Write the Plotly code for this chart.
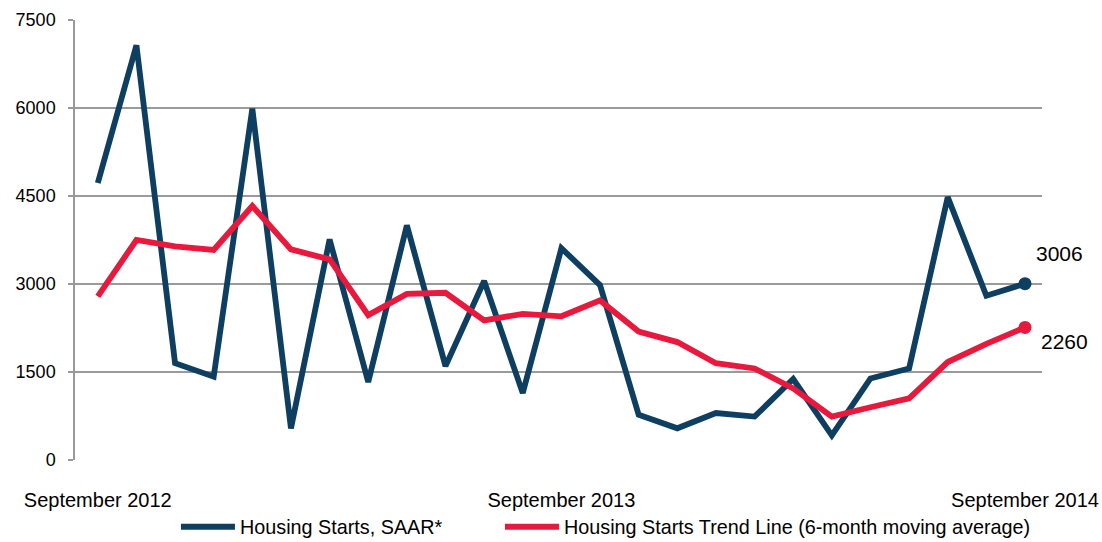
import plotly.graph_objects as go

months = ["Sep 2012", "Oct 2012", "Nov 2012", "Dec 2012", "Jan 2013", "Feb 2013", "Mar 2013",
          "Apr 2013", "May 2013", "Jun 2013", "Jul 2013", "Aug 2013", "Sep 2013", "Oct 2013",
          "Nov 2013", "Dec 2013", "Jan 2014", "Feb 2014", "Mar 2014", "Apr 2014", "May 2014",
          "Jun 2014", "Jul 2014", "Aug 2014", "Sep 2014"]
starts_saar = [4720, 7070, 1650, 1420, 5990, 540, 3760, 1330, 4000, 1600, 3050, 1140, 3610,
               2980, 770, 540, 800, 740, 1380, 420, 1390, 1560, 4480, 2800, 3006]
trend_6m = [2790, 3750, 3640, 3580, 4330, 3590, 3420, 2470, 2830, 2850, 2380, 2490, 2450,
            2720, 2190, 2010, 1650, 1560, 1220, 740, 900, 1050, 1670, 1980, 2260]
tick_idx = [0, 12, 24]
tick_text = ["September 2012", "September 2013", "September 2014"]
y_ticks = [0, 1500, 3000, 4500, 6000, 7500]

BLUE = "#0e3f61"
RED = "#e8193c"
FONT = "Liberation Sans, Arial, sans-serif"

x = list(range(len(months)))
last = len(months) - 1

fig = go.Figure()
fig.add_trace(go.Scatter(x=x, y=starts_saar, mode="lines", name="Housing Starts, SAAR*",
                         line=dict(color=BLUE, width=5.8), legendwidth=255))
fig.add_trace(go.Scatter(x=x, y=trend_6m, mode="lines",
                         name="Housing Starts Trend Line (6-month moving average)",
                         line=dict(color=RED, width=5.8)))
fig.add_trace(go.Scatter(x=[x[last]], y=[starts_saar[last]], mode="markers", showlegend=False,
                         marker=dict(color=BLUE, size=13)))
fig.add_trace(go.Scatter(x=[x[last]], y=[trend_6m[last]], mode="markers", showlegend=False,
                         marker=dict(color=RED, size=13)))

fig.add_annotation(x=x[last], y=starts_saar[last], text=str(starts_saar[last]), showarrow=False,
                   xanchor="left", yanchor="middle", xshift=9, yshift=30,
                   font=dict(family=FONT, size=21, color="black"))
fig.add_annotation(x=x[last], y=trend_6m[last], text=str(trend_6m[last]), showarrow=False,
                   xanchor="left", yanchor="middle", xshift=14, yshift=-14,
                   font=dict(family=FONT, size=21, color="black"))

fig.update_layout(
    width=1102, height=542,
    margin=dict(l=75, r=60, t=20, b=82, autoexpand=False),
    paper_bgcolor="white", plot_bgcolor="white",
    font=dict(family=FONT, size=18, color="black"),
    showlegend=True,
    legend=dict(orientation="h", x=0.1044, xanchor="left", y=-0.152, yanchor="middle",
                font=dict(family=FONT, size=19.8, color="black"), itemwidth=54,
                bgcolor="rgba(0,0,0,0)"),
    xaxis=dict(range=[-0.59, 24.44], tickmode="array", tickvals=tick_idx, ticktext=tick_text,
               showgrid=False, zeroline=False, showline=False, ticks="outside", ticklen=22,
               tickcolor="rgba(0,0,0,0)", tickfont=dict(size=20)),
    yaxis=dict(range=[0, 7500], tickmode="array", tickvals=y_ticks, showgrid=True,
               gridcolor="#9a9a9a", gridwidth=1.5, zeroline=False, showline=True,
               linecolor="#9a9a9a", linewidth=1.5, ticks="outside", ticklen=5,
               tickcolor="#9a9a9a", tickwidth=1.5, ticklabelstandoff=9,
               tickfont=dict(size=18)),
)

fig.write_html("out.html", config={"displayModeBar": False},
               post_script="document.body.style.margin='0';")
